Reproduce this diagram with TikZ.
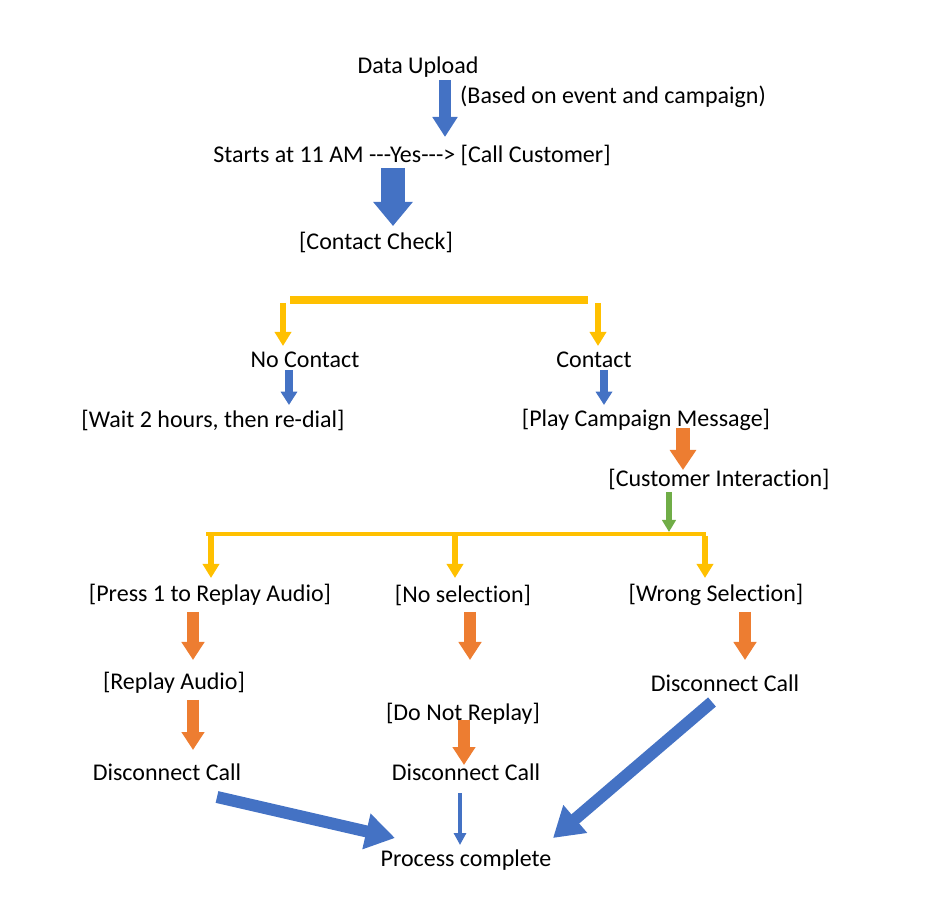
\documentclass[tikz,border=0pt]{standalone}
\usepackage{fontspec}
\setmainfont{Carlito}[Ligatures=NoCommon]
\usepackage{tikz}
\usetikzlibrary{arrows.meta}
\definecolor{ablue}{HTML}{4472C4}
\definecolor{ayellow}{HTML}{FFC000}
\definecolor{aorange}{HTML}{ED7D31}
\definecolor{agreen}{HTML}{70AD47}

\begin{document}
\begin{tikzpicture}[x=0.75pt,y=-0.75pt, font=\fontsize{18}{21}\selectfont,
    every node/.style={inner sep=0pt},
    bl/.style={draw=ablue, line width=9pt, -{Triangle[length=15pt,width=18pt]}},
    bigbl/.style={draw=ablue, line width=18pt, -{Triangle[length=18pt,width=28.5pt]}},
    smbl/.style={draw=ablue, line width=6.5pt, -{Triangle[length=10pt,width=12pt]}},
    thinbl/.style={draw=ablue, line width=3pt, -{Triangle[length=9pt,width=9pt]}},
    diagbl/.style={draw=ablue, line width=9pt, -{Triangle[length=22pt,width=26pt]}},
    yl/.style={draw=ayellow, line width=5pt, -{Triangle[length=10.5pt,width=12pt]}},
    bar/.style={draw=ayellow, line width=#1},
    orbig/.style={draw=aorange, line width=10.5pt, -{Triangle[length=15pt,width=19pt]}},
    or/.style={draw=aorange, line width=9pt, -{Triangle[length=13.5pt,width=16.5pt]}},
    gr/.style={draw=agreen, line width=5pt, -{Triangle[length=9pt,width=10pt]}}]
    \useasboundingbox (0,0) rectangle (940,923);

    \node(0) at (418,67) {Data Upload};
    \node(1) at (613,97) {(Based on event and campaign)};
    \node(2) at (412,155) {Starts at 11 AM -{}-{}-Yes-{}-{}-> [Call Customer]};
    \node(3) at (376,242) {[Contact Check]};
    \node(4) at (305,360) {No Contact};
    \node(5) at (594,360) {Contact};
    \node(6) at (213,420) {[Wait 2 hours, then re-dial]};
    \node(7) at (646,420) {[Play Campaign Message]};
    \node(8) at (719,479) {[Customer Interaction]};
    \node(9) at (210,595) {[Press 1 to Replay Audio]};
    \node(10) at (463,595) {[No selection]};
    \node(11) at (716,595) {[Wrong Selection]};
    \node(12) at (174,683) {[Replay Audio]};
    \node(13) at (725,683) {Disconnect Call};
    \node(14) at (463,714) {[Do Not Replay]};
    \node(15) at (167,772) {Disconnect Call};
    \node(16) at (466,772) {Disconnect Call};
    \node(17) at (466,860) {Process complete};

    % split points
    \coordinate(b1) at (290,300);
    \coordinate(b2) at (588,300);
    \coordinate(b3) at (206,534);
    \coordinate(b4) at (706,534);

    \draw[bl] (445,80) -- (445,137);
    \draw[bigbl] (393,168) -- (393,226);
    \draw[bar=6pt] (b1) -- (b2);
    \draw[yl] (283,303) -- (283,346);
    \draw[yl] (598,303) -- (598,346);
    \draw[smbl] (289,370) -- (289,405);
    \draw[smbl] (604,370) -- (604,405);
    \draw[orbig] (683,428) -- (683,470);
    \draw[gr] (669,492) -- (669,532);
    \draw[bar=3.5pt] (b3) -- (b4);
    \draw[yl] (211,536) -- (211,578);
    \draw[yl] (455,536) -- (455,578);
    \draw[yl] (705,536) -- (705,578);
    \draw[or] (193,612) -- (193,660);
    \draw[or] (470,612) -- (470,660);
    \draw[or] (745,612) -- (745,660);
    \draw[or] (193,700) -- (193,750);
    \draw[or] (464,720) -- (464,765);
    \draw[diagbl] (217,797) -- (395,838);
    \draw[thinbl] (460,793) -- (460,845);
    \draw[diagbl] (712,702) -- (553,838);
\end{tikzpicture}
\end{document}
